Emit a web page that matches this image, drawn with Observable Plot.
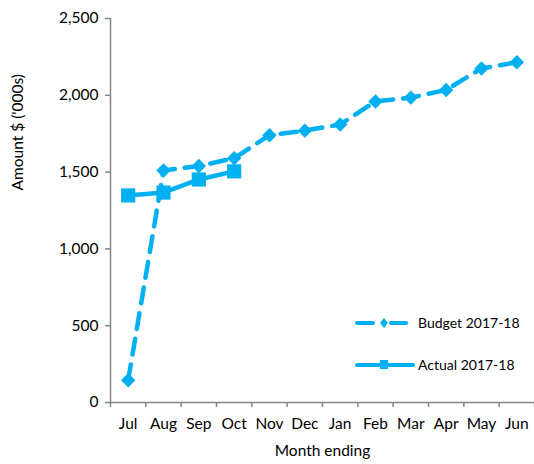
<!DOCTYPE html>
<html>
<head>
<meta charset="utf-8">
<script src="https://cdn.jsdelivr.net/npm/d3@7"></script>
<script src="https://cdn.jsdelivr.net/npm/@observablehq/plot@0.6"></script>
<style>
  body { margin: 0; background: #fff; }
  #wrap { position: relative; width: 534px; height: 464px; font-family: Lato, sans-serif; }
  #legend { position: absolute; left: 0; top: 0; }
</style>
</head>
<body>
<div id="wrap"></div>
<script>
const months = ["Jul","Aug","Sep","Oct","Nov","Dec","Jan","Feb","Mar","Apr","May","Jun"];
const budget = [145, 1510, 1540, 1590, 1740, 1770, 1810, 1960, 1985, 2035, 2175, 2215];
const actual = [1348, 1367, 1452, 1505];
const yTicks = [0, 500, 1000, 1500, 2000, 2500];
const seriesNames = ["Budget 2017-18", "Actual 2017-18"];
const yLabel = "Amount $ ('000s)";
const xLabel = "Month ending";

const blue = "#00b0f0";
const axisGrey = "#868686";
const fs = 15.5;

const budgetData = budget.map((v, i) => ({x: i + 0.5, y: v}));
const actualData = actual.map((v, i) => ({x: i + 0.5, y: v}));

const chart = Plot.plot({
  width: 534,
  height: 464,
  marginLeft: 110,
  marginRight: 0,
  marginTop: 18,
  marginBottom: 62,
  style: {fontFamily: "Lato, sans-serif", fontSize: fs + "px", color: "#000", background: "#fff"},
  x: {domain: [0, 12]},
  y: {domain: [0, 2500]},
  marks: [
    Plot.axisY({
      ticks: yTicks, tickFormat: d3.format(","), tickSize: 5, tickPadding: 7,
      stroke: axisGrey, strokeWidth: 1.5, fontSize: fs, label: null
    }),
    Plot.text([yLabel], {frameAnchor: "left", dx: -92, dy: -20, rotate: -90, fontSize: fs, fill: "#000"}),
    Plot.axisX({
      ticks: d3.range(0, 13), tickFormat: () => "", tickSize: 5, stroke: axisGrey, strokeWidth: 1.5, label: null
    }),
    Plot.axisX({
      ticks: months.map((m, i) => i + 0.5), tickFormat: (d) => months[Math.round(d - 0.5)],
      tickSize: 0, tickPadding: 15, fontSize: fs,
      label: xLabel, labelAnchor: "center", labelArrow: "none", labelOffset: 53
    }),
    Plot.ruleX([0], {stroke: axisGrey, strokeWidth: 1.5}),
    Plot.ruleY([0], {stroke: axisGrey, strokeWidth: 1.5}),
    Plot.line(budgetData, {x: "x", y: "y", stroke: blue, strokeWidth: 4.5, strokeDasharray: "16,10", strokeLinecap: "round"}),
    Plot.dot(budgetData, {x: "x", y: "y", symbol: "diamond2", r: 6.5, fill: blue, stroke: "none"}),
    Plot.line(actualData, {x: "x", y: "y", stroke: blue, strokeWidth: 4.5, strokeLinecap: "round"}),
    Plot.dot(actualData, {x: "x", y: "y", symbol: "square", r: 8, fill: blue, stroke: "none"})
  ]
});
document.getElementById("wrap").appendChild(chart);

// Legend overlay
const legend = d3.select("#wrap").append("svg")
  .attr("id", "legend").attr("width", 534).attr("height", 464)
  .style("font-family", "Lato, sans-serif").style("font-size", "14px");
const lg1 = legend.append("g");
lg1.append("line").attr("x1", 357).attr("x2", 373).attr("y1", 323).attr("y2", 323)
  .attr("stroke", blue).attr("stroke-width", 4).attr("stroke-linecap", "round");
lg1.append("line").attr("x1", 391).attr("x2", 406).attr("y1", 323).attr("y2", 323)
  .attr("stroke", blue).attr("stroke-width", 4).attr("stroke-linecap", "round");
lg1.append("path").attr("d", "M384,318L388,323L384,328L380,323Z").attr("fill", blue);
lg1.append("text").attr("x", 418).attr("y", 328).text(seriesNames[0]);
const lg2 = legend.append("g");
lg2.append("line").attr("x1", 357).attr("x2", 413).attr("y1", 365).attr("y2", 365)
  .attr("stroke", blue).attr("stroke-width", 4).attr("stroke-linecap", "round");
lg2.append("rect").attr("x", 380).attr("y", 360).attr("width", 8).attr("height", 9).attr("fill", blue);
lg2.append("text").attr("x", 418).attr("y", 370).text(seriesNames[1]);
</script>
</body>
</html>
